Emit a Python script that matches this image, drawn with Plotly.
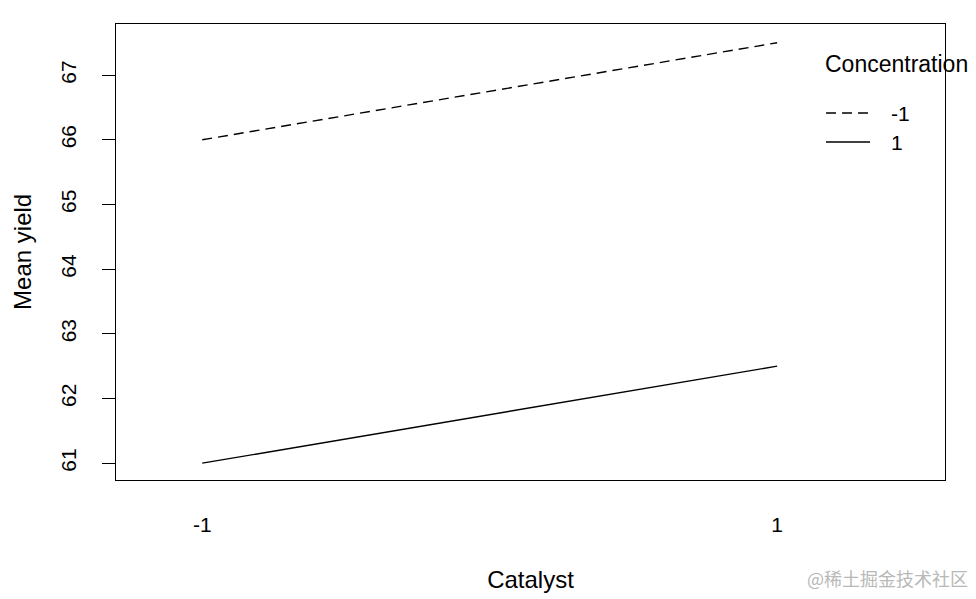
import plotly.graph_objects as go

catalyst = ["-1", "1"]
conc_levels = ["-1", "1"]
mean_yield = {
    "-1": [66.0, 67.5],
    "1": [61.0, 62.5],
}
y_ticks = [61, 62, 63, 64, 65, 66, 67]

dash_style = {"-1": "10px,6px", "1": "solid"}
legend_y = {"-1": 0.8048, "1": 0.7412}

FAMILY = "Liberation Sans, Arial, sans-serif"
tick_font = dict(family=FAMILY, size=21, color="black")
title_font = dict(family=FAMILY, size=24, color="black")
legend_title_font = dict(family=FAMILY, size=23, color="black")

fig = go.Figure()
for lvl in conc_levels:
    fig.add_trace(go.Scatter(
        x=catalyst,
        y=mean_yield[lvl],
        mode="lines",
        name=lvl,
        line=dict(color="black", width=1.4, dash=dash_style[lvl]),
    ))

# the page body adds an 8px margin, so the figure is 8px smaller than the window
fig.update_layout(
    width=968,
    height=591,
    paper_bgcolor="white",
    plot_bgcolor="white",
    margin=dict(l=108, r=31, t=16, b=119),
    font=tick_font,
    showlegend=False,
    xaxis=dict(
        type="category",
        range=[-0.15, 1.292],
        automargin=False,
        showgrid=False, zeroline=False,
        showline=True, mirror=True, linecolor="black", linewidth=1.3,
        ticks="", ticklabelstandoff=26,
        tickfont=tick_font,
        title=dict(text="Catalyst", font=title_font, standoff=35),
    ),
    yaxis=dict(
        range=[60.74, 67.79],
        automargin=False,
        tickvals=y_ticks,
        ticktext=[str(v) for v in y_ticks],
        tickangle=-90,
        showgrid=False, zeroline=False,
        showline=True, mirror=True, linecolor="black", linewidth=1.3,
        ticks="outside", ticklen=13, tickcolor="black", tickwidth=1.2,
        ticklabelstandoff=17,
        tickfont=tick_font,
    ),
)

# y title as annotation so it can sit close to the page edge, like R's
fig.add_annotation(
    text="Mean yield", xref="paper", yref="paper",
    x=-0.1135, y=0.5, xanchor="center", yanchor="middle",
    textangle=-90, showarrow=False, font=title_font,
)

# legend drawn by hand, R style
fig.add_annotation(
    text="Concentration", xref="paper", yref="paper",
    x=0.8525, y=0.9123, xanchor="left", yanchor="middle",
    showarrow=False, font=legend_title_font,
)
for lvl in conc_levels:
    fig.add_shape(
        type="line", xref="paper", yref="paper",
        x0=0.8565, x1=0.9096, y0=legend_y[lvl], y1=legend_y[lvl],
        line=dict(color="black", width=1.4, dash=dash_style[lvl]),
    )
    fig.add_annotation(
        text=lvl, xref="paper", yref="paper",
        x=0.933, y=legend_y[lvl], xanchor="left", yanchor="middle",
        showarrow=False, font=tick_font,
    )

fig.add_annotation(
    text="@稀土掘金技术社区", xref="paper", yref="paper",
    x=1.03, y=-0.215, xanchor="right", yanchor="middle",
    showarrow=False,
    font=dict(family="Noto Sans CJK SC", size=18, color="#b8b8b8"),
)

fig.write_html("out.html")
